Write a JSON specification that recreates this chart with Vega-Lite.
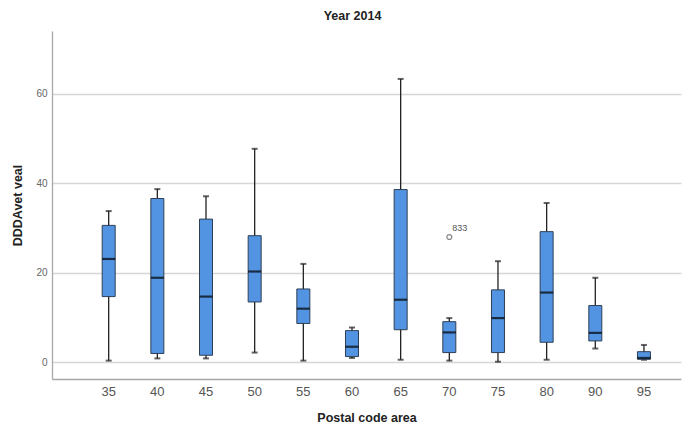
{
  "$schema": "https://vega.github.io/schema/vega-lite/v6.json",
  "width": 629,
  "height": 348,
  "autosize": {"type": "none"},
  "padding": {"left": 52, "top": 31, "right": 11, "bottom": 55},
  "background": "white",
  "title": {
    "text": "Year 2014",
    "font": "Liberation Sans",
    "fontSize": 12.5,
    "fontWeight": "bold",
    "color": "#222222",
    "anchor": "middle",
    "frame": "group",
    "dx": -14,
    "offset": 9
  },
  "config": {
    "view": {"stroke": null},
    "font": "Liberation Sans"
  },
  "datasets": {
    "boxes": [
      {"area": "35", "lower": 0.4, "q1": 14.7, "median": 23.1, "q3": 30.6, "upper": 33.8},
      {"area": "40", "lower": 0.9, "q1": 2.0, "median": 18.9, "q3": 36.6, "upper": 38.7},
      {"area": "45", "lower": 0.9, "q1": 1.6, "median": 14.7, "q3": 32.0, "upper": 37.1},
      {"area": "50", "lower": 2.2, "q1": 13.5, "median": 20.3, "q3": 28.3, "upper": 47.7},
      {"area": "55", "lower": 0.4, "q1": 8.7, "median": 12.0, "q3": 16.4, "upper": 22.0},
      {"area": "60", "lower": 1.0, "q1": 1.3, "median": 3.5, "q3": 7.1, "upper": 7.8},
      {"area": "65", "lower": 0.6, "q1": 7.3, "median": 14.0, "q3": 38.6, "upper": 63.3},
      {"area": "70", "lower": 0.4, "q1": 2.2, "median": 6.7, "q3": 9.1, "upper": 9.9},
      {"area": "75", "lower": 0.15, "q1": 2.2, "median": 9.9, "q3": 16.2, "upper": 22.6},
      {"area": "80", "lower": 0.6, "q1": 4.5, "median": 15.6, "q3": 29.2, "upper": 35.6},
      {"area": "90", "lower": 3.1, "q1": 4.8, "median": 6.6, "q3": 12.7, "upper": 18.9},
      {"area": "95", "lower": 0.6, "q1": 0.7, "median": 1.0, "q3": 2.4, "upper": 3.9}
    ],
    "outliers": [
      {"area": "70", "value": 28.0, "case": "833"}
    ]
  },
  "data": {"name": "boxes"},
  "encoding": {
    "x": {
      "field": "area",
      "type": "nominal",
      "sort": null,
      "scale": {
        "type": "band",
        "domain": ["35", "40", "45", "50", "55", "60", "65", "70", "75", "80", "90", "95"],
        "paddingInner": 0,
        "paddingOuter": 0.463,
        "align": 0.718
      },
      "axis": {
        "title": "Postal code area",
        "titleFont": "Liberation Sans",
        "titleFontSize": 12.5,
        "titleFontWeight": "bold",
        "titleColor": "#222222",
        "titlePadding": 13,
        "labelAngle": 0,
        "labelFont": "Liberation Sans",
        "labelFontSize": 13,
        "labelColor": "#555555",
        "labelPadding": 6,
        "ticks": false,
        "tickSize": 0,
        "domainColor": "#a8a8a8",
        "domainWidth": 1.3,
        "grid": false
      }
    }
  },
  "layer": [
    {
      "mark": {"type": "rule", "color": "#222222", "strokeWidth": 1.3},
      "encoding": {
        "y": {
          "field": "lower",
          "type": "quantitative",
          "scale": {"domain": [-3.7, 74], "nice": false, "zero": false},
          "axis": {
            "title": "DDDAvet veal",
            "titleFont": "Liberation Sans",
            "titleFontSize": 12.5,
            "titleFontWeight": "bold",
            "titleColor": "#222222",
            "titlePadding": 11,
            "values": [0, 20, 40, 60],
            "labelFont": "Liberation Sans",
            "labelFontSize": 10,
            "labelColor": "#666666",
            "labelPadding": 5,
            "ticks": false,
            "tickSize": 0,
            "domainColor": "#a8a8a8",
            "domainWidth": 1.3,
            "grid": true,
            "gridColor": "#d6d6d6",
            "gridWidth": 1.5
          }
        },
        "y2": {"field": "upper"}
      }
    },
    {
      "mark": {"type": "tick", "color": "#222222", "thickness": 2, "size": 6},
      "encoding": {"y": {"field": "lower", "type": "quantitative"}}
    },
    {
      "mark": {"type": "tick", "color": "#222222", "thickness": 2, "size": 6},
      "encoding": {"y": {"field": "upper", "type": "quantitative"}}
    },
    {
      "mark": {"type": "bar", "size": 13, "fill": "#5294E2", "stroke": "#2f3f55", "strokeWidth": 1},
      "encoding": {
        "y": {"field": "q1", "type": "quantitative"},
        "y2": {"field": "q3"}
      }
    },
    {
      "mark": {"type": "tick", "color": "#000000", "thickness": 2.2, "size": 13},
      "encoding": {"y": {"field": "median", "type": "quantitative"}}
    },
    {
      "data": {"name": "outliers"},
      "mark": {"type": "point", "shape": "circle", "filled": false, "size": 24, "stroke": "#555555", "strokeWidth": 1.2},
      "encoding": {"y": {"field": "value", "type": "quantitative"}}
    },
    {
      "data": {"name": "outliers"},
      "mark": {"type": "text", "font": "Liberation Sans", "fontSize": 9, "color": "#555555", "align": "left", "dx": 3, "dy": -9},
      "encoding": {
        "y": {"field": "value", "type": "quantitative"},
        "text": {"field": "case"}
      }
    }
  ]
}
